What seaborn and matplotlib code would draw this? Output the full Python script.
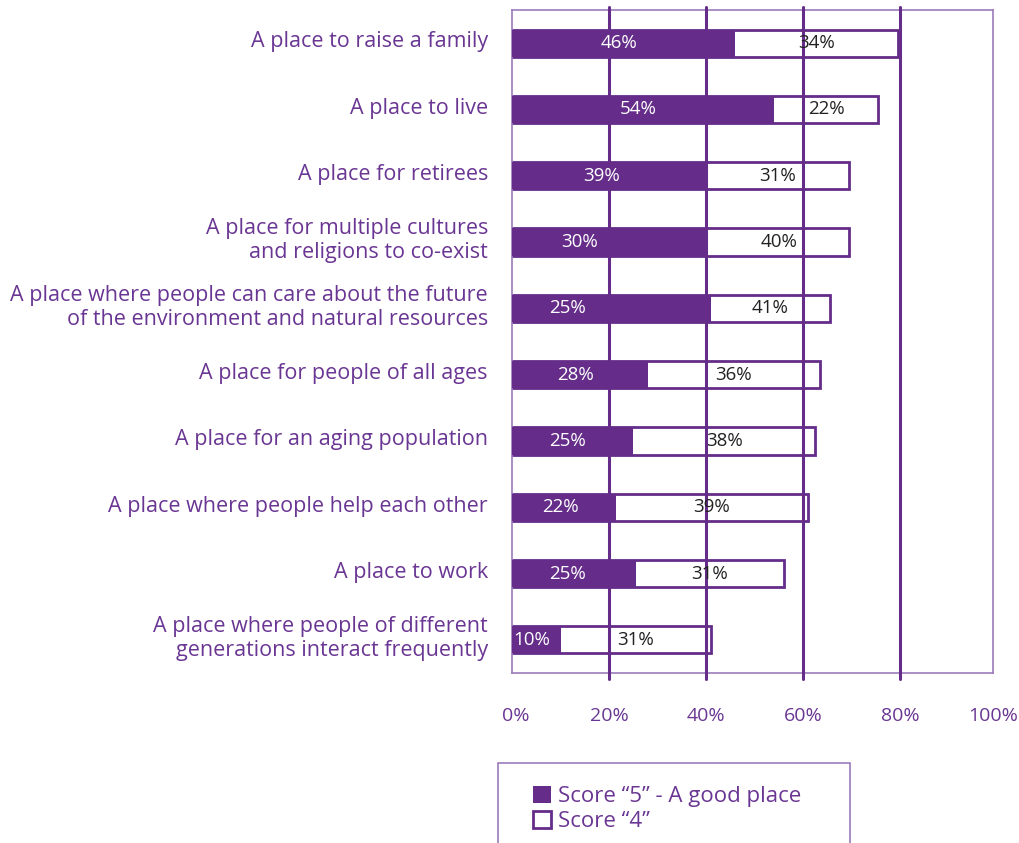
import matplotlib
matplotlib.use("Agg")
import matplotlib.pyplot as plt
from matplotlib.patches import Patch, Rectangle
from matplotlib.transforms import ScaledTranslation
import seaborn as sns
import pandas as pd

categories = [
    "A place to raise a family",
    "A place to live",
    "A place for retirees",
    "A place for multiple cultures\nand religions to co-exist",
    "A place where people can care about the future\nof the environment and natural resources",
    "A place for people of all ages",
    "A place for an aging population",
    "A place where people help each other",
    "A place to work",
    "A place where people of different\ngenerations interact frequently",
]
# bar lengths as drawn in the picture
score5 = [46, 54, 40, 40.5, 41, 28, 25, 21.5, 25.5, 10]
score4 = [33.5, 21.5, 29.5, 29, 24.5, 35.5, 37.5, 39.5, 30.5, 31]
# printed data labels
label5 = ["46%", "54%", "39%", "30%", "25%", "28%", "25%", "22%", "25%", "10%"]
label4 = ["34%", "22%", "31%", "40%", "41%", "36%", "38%", "39%", "31%", "31%"]
label5_val = [46, 54, 39, 30, 25, 28, 25, 22, 25, 10]
xticks = [0, 20, 40, 60, 80, 100]
xtick_labels = ["0%", "20%", "40%", "60%", "80%", "100%"]
legend_labels = ["Score \u201c5\u201d - A good place", "Score \u201c4\u201d"]

PURPLE = "#652D89"
TEXT_PURPLE = "#6A3693"
FRAME = "#9B7BBB"

sns.set_theme(style="white")
plt.rcParams["font.family"] = ["Open Sans", "DejaVu Sans"]

df = pd.DataFrame({
    "category": categories,
    "score5": score5,
    "score4": score4,
})
df["total"] = df["score5"] + df["score4"]

fig = plt.figure(figsize=(10.19, 8.43), dpi=100)
ax = fig.add_axes([512 / 1019, 1 - 673 / 843, 485 / 1019, 663 / 843])

sns.barplot(data=df, y="category", x="total", orient="h", ax=ax,
            color="none", edgecolor=PURPLE, linewidth=2.0, width=0.41,
            fill=False, zorder=2)
sns.barplot(data=df, y="category", x="score5", orient="h", ax=ax,
            color=PURPLE, edgecolor=PURPLE, linewidth=0, width=0.41,
            saturation=1, zorder=3)

ax.set_xlim(0, 100)
ax.set_ylim(9.5, -0.5)
ax.set_xlabel("")
ax.set_ylabel("")

# gridlines (extend slightly beyond the frame)
for t in xticks[1:-1]:
    ax.plot([t, t], [-0.009, 1.005], transform=ax.get_xaxis_transform(),
            color=PURPLE, lw=2.2, clip_on=False, zorder=4)

FRAME_RIGHT = 99.2
for s in ["left", "top", "bottom", "right"]:
    ax.spines[s].set_visible(True)
    ax.spines[s].set_color(FRAME)
    ax.spines[s].set_linewidth(1.2)
ax.spines["right"].set_position(("data", FRAME_RIGHT))
ax.spines["top"].set_bounds(0, FRAME_RIGHT)
ax.spines["bottom"].set_bounds(0, FRAME_RIGHT)

ax.set_xticks(xticks)
ax.set_xticklabels([])
ax.tick_params(axis="both", length=0)
ax.set_yticks(range(len(categories)))
ax.set_yticklabels([])

# x tick labels (first nudged right, last nudged left as in the original)
tick_shift = {0: 4, len(xticks) - 1: -4}
for k, (t, s) in enumerate(zip(xticks, xtick_labels)):
    dx = tick_shift.get(k, 0)
    ax.text(t, 0, s, transform=ax.get_xaxis_transform()
            + ScaledTranslation(dx / 100, -43 / 100, fig.dpi_scale_trans),
            ha="center", va="center", color=TEXT_PURPLE, fontsize=14)

# category labels
cat_tr = ax.get_yaxis_transform() + ScaledTranslation(-24 / 100, 1.2 / 100, fig.dpi_scale_trans)
for i, c in enumerate(categories):
    ax.text(0, i, c, transform=cat_tr, ha="right", va="center",
            multialignment="right", color=TEXT_PURPLE, fontsize=15.5,
            linespacing=1.17)

for i in range(len(categories)):
    ax.text(label5_val[i] / 2 - 1, i, label5[i], ha="center", va="center",
            color="white", fontsize=13.5, zorder=6)
    ax.text(score5[i] + score4[i] / 2, i, label4[i], ha="center", va="center",
            color="#222222", fontsize=13.5, zorder=6)

# legend box
fig.patches.append(Rectangle((498 / 1019, -0.02), (850 - 498) / 1019, (843 - 763) / 843 + 0.02,
                             transform=fig.transFigure, fill=False,
                             edgecolor=FRAME, linewidth=1.2))
handles = [Patch(facecolor=PURPLE, edgecolor=PURPLE, linewidth=0),
           Patch(facecolor="white", edgecolor=PURPLE, linewidth=2)]
leg = fig.legend(handles, legend_labels, loc="center left",
                 bbox_to_anchor=(522 / 1019, 1 - 809 / 843), frameon=False,
                 fontsize=16, handlelength=0.8, handleheight=0.8,
                 handletextpad=0.3, labelspacing=0.2, borderpad=0)
for t in leg.get_texts():
    t.set_color(TEXT_PURPLE)

fig.savefig("out.png", dpi=100)
